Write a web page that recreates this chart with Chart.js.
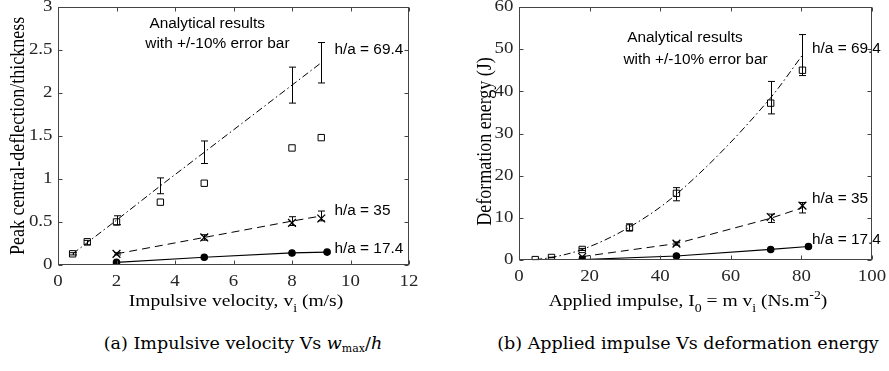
<!DOCTYPE html>
<html>
<head>
<meta charset="utf-8">
<script src="https://cdn.jsdelivr.net/npm/chart.js@4.4.0/dist/chart.umd.min.js"></script>
<style>
  body { margin: 0; background: #fff; width: 889px; height: 371px; position: relative; overflow: hidden; }
  .panel { position: absolute; top: 0; }
  .caption { position: absolute; top: 333px; font-family: "DejaVu Serif", serif; font-size: 17.5px; color: #000; white-space: nowrap; transform: translateX(-50%); }
  .caption sub { font-size: 11px; vertical-align: -3px; }
  .warm { position: absolute; left: -999px; top: 0; }
</style>
</head>
<body>
<div class="panel" style="left:0"><canvas id="velChart" width="440" height="320"></canvas></div>
<div class="panel" style="left:440px"><canvas id="energyChart" width="449" height="320"></canvas></div>
<div class="caption" style="left:243px">(a) Impulsive velocity Vs <i>w</i><sub>max</sub>/<i>h</i></div>
<div class="caption" style="left:688px">(b) Applied impulse Vs deformation energy</div>
<div class="warm"><span style="font-family:'Liberation Serif'">Ab</span><span style="font-family:'Liberation Sans'">Ab</span></div>
<script>
// (a) impulsive velocity vs peak deflection / thickness
const vel694 = [0.5, 1, 2, 3.5, 5, 8, 9];
const defl694Ana = [0.13, 0.26, 0.52, 0.92, 1.31, 2.09, 2.35];
const defl694Exp = [0.13, 0.27, 0.50, 0.73, 0.95, 1.36, 1.48];
const vel35 = [2, 5, 8, 9];
const defl35Ana = [0.13, 0.32, 0.51, 0.57];
const defl35Exp = [0.13, 0.32, 0.49, 0.54];
const vel174 = [2, 5, 8, 9.2];
const defl174 = [0.03, 0.09, 0.14, 0.15];
const velTicks = [0, 2, 4, 6, 8, 10, 12];
const deflTicks = [0, 0.5, 1, 1.5, 2, 2.5, 3];

// (b) applied impulse vs deformation energy
const imp694 = [4.6, 9.2, 17.9, 31.3, 44.6, 71.3, 80.3];
const energy694Ana = [0.1, 0.6, 2.5, 7.8, 15.6, 38.5, 48.6];
const energy694Exp = [0.1, 0.6, 2.5, 7.6, 15.8, 37.2, 45.0];
const imp35 = [17.9, 44.6, 71.3, 80.3];
const energy35Ana = [0.8, 3.9, 9.9, 12.4];
const energy35Exp = [0.7, 3.9, 10.2, 12.9];
const imp174 = [17.9, 44.6, 71.3, 82];
const energy174 = [0.1, 0.95, 2.5, 3.2];
const impTicks = [0, 20, 40, 60, 80, 100];
const energyTicks = [0, 10, 20, 30, 40, 50, 60];

const ERR = 0.1; // +/-10% error bar on analytical results
const SERIF = "'Liberation Serif', serif";
const SANS = "'Liberation Sans', sans-serif";
const STRETCH = 1.18; // the original figure is squeezed into a wider box, text looks wide

const pts = (xs, ys) => xs.map((x, i) => ({ x: x, y: ys[i] }));

function anaLine(xs, ys, dash, curved) {
    return {
        type: 'line', data: pts(xs, ys), borderColor: '#000', borderWidth: 1,
        borderDash: dash, pointRadius: 0, errBars: true,
        cubicInterpolationMode: curved ? 'monotone' : 'default'
    };
}
function expPoints(xs, ys, style, filled) {
    return {
        type: 'scatter', data: pts(xs, ys), pointStyle: style,
        pointRadius: style === 'crossRot' ? 5.5 : 4.5, pointBorderWidth: style === 'crossRot' ? 1.3 : 1,
        pointBorderColor: '#000', pointBackgroundColor: filled ? '#000' : 'rgba(0,0,0,0)'
    };
}
function solidLine(xs, ys) {
    return {
        type: 'line', data: pts(xs, ys), borderColor: '#000', borderWidth: 1.2,
        pointStyle: 'circle', pointRadius: 3.2, pointBackgroundColor: '#000', pointBorderColor: '#000'
    };
}

// text stretched horizontally around its anchor
function wideText(ctx, text, x, y, sx, rot) {
    ctx.save();
    ctx.translate(x, y);
    ctx.scale(sx, 1);
    if (rot) ctx.rotate(rot);
    ctx.fillText(text, 0, 0);
    ctx.restore();
}

// frame, inward ticks, tick labels, error bars, annotations and axis titles
const decorPlugin = {
    id: 'decor',
    afterDatasetsDraw(chart) {
        const ctx = chart.ctx;
        const xs = chart.scales.x, ys = chart.scales.y;
        ctx.save();
        ctx.strokeStyle = '#000';
        ctx.lineWidth = 1;
        chart.data.datasets.forEach(ds => {
            if (!ds.errBars) return;
            ds.data.forEach(p => {
                const px = Math.round(xs.getPixelForValue(p.x)) + 0.5;
                const hi = ys.getPixelForValue(p.y * (1 + ERR));
                const lo = ys.getPixelForValue(p.y * (1 - ERR));
                ctx.beginPath();
                ctx.moveTo(px, hi); ctx.lineTo(px, lo);
                ctx.moveTo(px - 3.5, hi); ctx.lineTo(px + 3.5, hi);
                ctx.moveTo(px - 3.5, lo); ctx.lineTo(px + 3.5, lo);
                ctx.stroke();
            });
        });
        ctx.restore();
    },
    afterDraw(chart, args, opts) {
        const ctx = chart.ctx;
        const a = chart.chartArea;
        const xs = chart.scales.x, ys = chart.scales.y;
        ctx.save();
        ctx.strokeStyle = '#444';
        ctx.lineWidth = 1;
        const L = Math.round(a.left) + 0.5, R = Math.round(a.right) - 0.5;
        const T = Math.round(a.top) + 0.5, B = Math.round(a.bottom) - 0.5;
        ctx.strokeRect(L, T, R - L, B - T);
        ctx.beginPath();
        xs.ticks.forEach(t => {
            const px = Math.round(xs.getPixelForValue(t.value)) + 0.5;
            ctx.moveTo(px, B); ctx.lineTo(px, B - 4);
            ctx.moveTo(px, T); ctx.lineTo(px, T + 4);
        });
        ys.ticks.forEach(t => {
            const py = Math.round(ys.getPixelForValue(t.value)) + 0.5;
            ctx.moveTo(L, py); ctx.lineTo(L + 4, py);
            ctx.moveTo(R, py); ctx.lineTo(R - 4, py);
        });
        ctx.stroke();

        // tick labels
        ctx.fillStyle = '#262626';
        ctx.font = '16px ' + SERIF;
        ctx.textAlign = 'center';
        ctx.textBaseline = 'top';
        xs.ticks.forEach(t => wideText(ctx, String(t.value), xs.getPixelForValue(t.value), B + opts.xTickPad, STRETCH));
        ctx.textAlign = 'right';
        ctx.textBaseline = 'middle';
        ys.ticks.forEach(t => wideText(ctx, String(t.value), L - 6, ys.getPixelForValue(t.value), STRETCH));

        // y axis title
        ctx.fillStyle = '#000';
        ctx.font = '18px ' + SERIF;
        ctx.textAlign = 'center';
        wideText(ctx, opts.yTitle, opts.yTitleX, (a.top + a.bottom) / 2 + opts.yTitleDy, STRETCH, -Math.PI / 2);

        // annotations
        ctx.font = '14px ' + SANS;
        opts.notes.forEach(n => {
            ctx.textAlign = n.align;
            wideText(ctx, n.text, xs.getPixelForValue(n.x), ys.getPixelForValue(n.y), 1.1);
        });

        // x axis title with sub/superscripts
        const parts = opts.xTitle;
        const big = '17px ' + SERIF, small = '12px ' + SERIF;
        let w = 0;
        parts.forEach(p => { ctx.font = p.s ? small : big; w += ctx.measureText(p.t).width * 1.15; });
        let x = opts.xTitleX - w / 2;
        const base = 306;
        ctx.textAlign = 'left';
        ctx.textBaseline = 'alphabetic';
        parts.forEach(p => {
            ctx.font = p.s ? small : big;
            const dy = p.s === 'sub' ? 6 : (p.s === 'sup' ? -7 : 0);
            wideText(ctx, p.t, x, base + dy, 1.15);
            x += ctx.measureText(p.t).width * 1.15;
        });
        ctx.restore();
    }
};

function makeChart(id, datasets, opt) {
    return new Chart(document.getElementById(id), {
        data: { datasets: datasets },
        options: {
            responsive: false,
            animation: false,
            layout: { padding: opt.padding },
            plugins: {
                legend: { display: false },
                tooltip: { enabled: false },
                decor: opt
            },
            scales: {
                x: {
                    type: 'linear', min: opt.xTicks[0], max: opt.xTicks[opt.xTicks.length - 1],
                    afterBuildTicks: s => { s.ticks = opt.xTicks.map(v => ({ value: v })); },
                    afterFit: s => { s.height = opt.xHeight; s.paddingLeft = 0; s.paddingRight = 0; },
                    grid: { display: false, drawTicks: false },
                    border: { display: false },
                    ticks: { display: false }
                },
                y: {
                    type: 'linear', min: opt.yTicks[0], max: opt.yTicks[opt.yTicks.length - 1],
                    afterBuildTicks: s => { s.ticks = opt.yTicks.map(v => ({ value: v })); },
                    afterFit: s => { s.width = opt.yWidth; s.paddingTop = 0; s.paddingBottom = 0; },
                    grid: { display: false, drawTicks: false },
                    border: { display: false },
                    ticks: { display: false }
                }
            }
        },
        plugins: [decorPlugin]
    });
}

function drawAll() {
    makeChart('velChart', [
        anaLine(vel694, defl694Ana, [7, 3, 1.5, 3], false),
        expPoints(vel694, defl694Exp, 'rect', false),
        anaLine(vel35, defl35Ana, [8, 5], false),
        expPoints(vel35, defl35Exp, 'crossRot', false),
        solidLine(vel174, defl174)
    ], {
        padding: { left: 0, right: 31, top: 6, bottom: 0 },
        xTicks: velTicks, yTicks: deflTicks, xHeight: 55, yWidth: 58, xTickPad: 9,
        yTitle: 'Peak central-deflection/thickness', yTitleX: 18, yTitleDy: 0,
        xTitleX: 236,
        xTitle: [{ t: 'Impulsive velocity, v' }, { t: 'i', s: 'sub' }, { t: ' (m/s)' }],
        notes: [
            { text: 'Analytical results', x: 5.1, y: 2.8, align: 'center' },
            { text: 'with +/-10% error bar', x: 5.45, y: 2.57, align: 'center' },
            { text: 'h/a = 69.4', x: 9.45, y: 2.5, align: 'left' },
            { text: 'h/a = 35', x: 9.45, y: 0.63, align: 'left' },
            { text: 'h/a = 17.4', x: 9.45, y: 0.18, align: 'left' }
        ]
    });

    makeChart('energyChart', [
        anaLine(imp694, energy694Ana, [7, 3, 1.5, 3], true),
        expPoints(imp694, energy694Exp, 'rect', false),
        anaLine(imp35, energy35Ana, [8, 5], false),
        expPoints(imp35, energy35Exp, 'crossRot', false),
        solidLine(imp174, energy174)
    ], {
        padding: { left: 0, right: 17, top: 7, bottom: 0 },
        xTicks: impTicks, yTicks: energyTicks, xHeight: 60, yWidth: 79, xTickPad: 9,
        yTitle: 'Deformation energy (J)', yTitleX: 45, yTitleDy: 8,
        xTitleX: 248,
        xTitle: [{ t: 'Applied impulse, I' }, { t: '0', s: 'sub' }, { t: ' = m v' }, { t: 'i', s: 'sub' }, { t: ' (Ns.m' }, { t: '-2', s: 'sup' }, { t: ')' }],
        notes: [
            { text: 'Analytical results', x: 47, y: 52.5, align: 'center' },
            { text: 'with +/-10% error bar', x: 50, y: 47.5, align: 'center' },
            { text: 'h/a = 69.4', x: 83, y: 50, align: 'left' },
            { text: 'h/a = 35', x: 83, y: 14.5, align: 'left' },
            { text: 'h/a = 17.4', x: 83, y: 4.8, align: 'left' }
        ]
    });
}

Promise.all([
    document.fonts.load("16px 'Liberation Serif'"),
    document.fonts.load("14px 'Liberation Sans'")
]).then(drawAll, drawAll);
</script>
</body>
</html>
